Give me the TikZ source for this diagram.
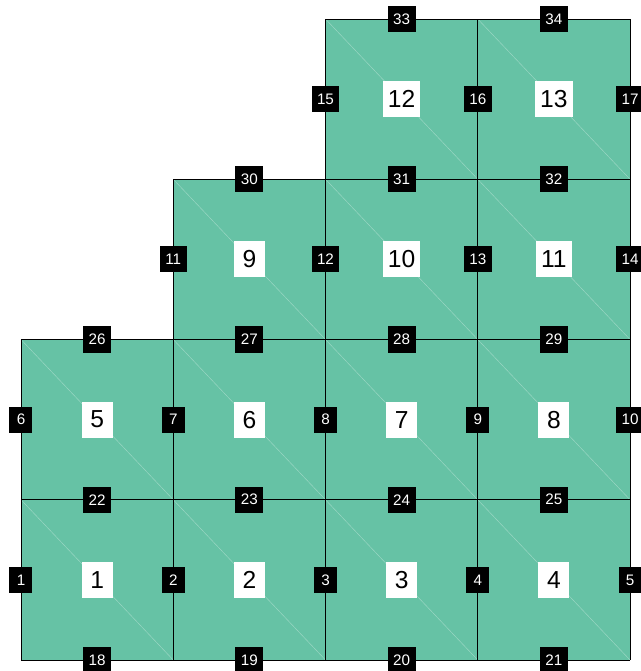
\documentclass[tikz,border=0pt]{standalone}
\usepackage{fontspec}
\setmainfont{Liberation Sans}
\definecolor{cellgreen}{HTML}{66C2A5}
\begin{document}
\begin{tikzpicture}[x=4.5675cm, y=4.8075cm,
    elemlbl/.style={fill=white, text=black, font=\fontsize{21}{25}\selectfont,
      minimum width=0.93cm, minimum height=1.08cm, inner xsep=0.15cm, inner ysep=0pt},
    edgelbl/.style={fill=black, text=white, font=\fontsize{13}{15}\selectfont,
      minimum width=0.69cm, minimum height=0.78cm, inner xsep=0.165cm, inner ysep=0pt},
    meshline/.style={black, line width=0.7pt},
    diagline/.style={white, opacity=0.35, line width=0.4pt}]
    \useasboundingbox (-0.1379,-0.0686) rectangle (4.0657,4.1186);

    % Cells with diagonals
    \foreach \c/\r in {0/0,1/0,2/0,3/0,0/1,1/1,2/1,3/1,1/2,2/2,3/2,2/3,3/3} {
        \fill[cellgreen] (\c,\r) rectangle ++(1,1);
        \draw[diagline] (\c,\r+1) -- (\c+1,\r);
    }

    % Vertical edges
    \foreach \x/\y [count=\n] in {0/0,1/0,2/0,3/0,4/0,0/1,1/1,2/1,3/1,4/1,1/2,2/2,3/2,4/2,2/3,3/3,4/3}
        \draw[meshline] (\x,\y) -- (\x,\y+1);

    % Horizontal edges
    \foreach \x/\y in {0/0,1/0,2/0,3/0,0/1,1/1,2/1,3/1,0/2,1/2,2/2,3/2,1/3,2/3,3/3,2/4,3/4}
        \draw[meshline] (\x,\y) -- (\x+1,\y);

    % Element numbers
    \foreach \c/\r [count=\n] in {0/0,1/0,2/0,3/0,0/1,1/1,2/1,3/1,1/2,2/2,3/2,2/3,3/3}
        \node[elemlbl] (el\n) at (\c+0.5,\r+0.5) {\n};

    % Edge numbers: vertical, then horizontal
    \foreach \x/\y [count=\n] in {0/0,1/0,2/0,3/0,4/0,0/1,1/1,2/1,3/1,4/1,1/2,2/2,3/2,4/2,2/3,3/3,4/3}
        \node[edgelbl] (ed\n) at (\x,\y+0.5) {\n};
    \foreach \x/\y [count=\n from 18] in {0/0,1/0,2/0,3/0,0/1,1/1,2/1,3/1,0/2,1/2,2/2,3/2,1/3,2/3,3/3,2/4,3/4}
        \node[edgelbl] (ed\n) at (\x+0.5,\y) {\n};
\end{tikzpicture}
\end{document}
